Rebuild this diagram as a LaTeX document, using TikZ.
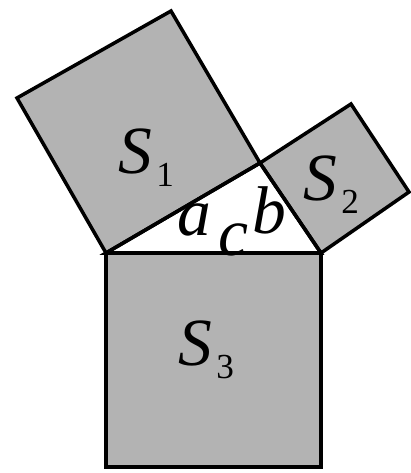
\documentclass[tikz,border=0pt]{standalone}
\usepackage{fontspec}
\setmainfont{Liberation Serif}
\usetikzlibrary{positioning}
\definecolor{squaregray}{HTML}{B3B3B3}
\tikzset{
  square/.style={draw=black, fill=squaregray, line width=2.5pt, line join=miter},
  edge/.style={draw=black, line width=2.5pt, line join=miter},
  sidelabel/.style={font=\fontsize{48}{48}\selectfont\itshape, inner sep=0pt, anchor=base west},
}
\newcommand{\sqname}[1]{S\kern3pt\raisebox{-0.2em}{\fontsize{25}{25}\selectfont\upshape #1}}
\begin{document}
\begin{tikzpicture}[x=0.025cm, y=-0.025cm]
  \fill[white] (0,0) rectangle (411,473);
  \useasboundingbox (0,0) rectangle (411,473);
  % triangle corners
  \coordinate (A) at (106,253);
  \coordinate (B) at (321,253);
  \coordinate (C) at (260,163);
  % outer corners of the squares
  \coordinate (A1) at (17,98);
  \coordinate (C1) at (171,11);
  \coordinate (C2) at (351,104);
  \coordinate (B2) at (409,192);
  \coordinate (A3) at (106,467);
  \coordinate (B3) at (321,467);
  \draw[square] (A) -- (A1) -- (C1) -- (C) -- cycle;
  \draw[square] (C) -- (C2) -- (B2) -- (B) -- cycle;
  \draw[square] (A) -- (B) -- (B3) -- (A3) -- cycle;
  \draw[edge] (A) -- (C) -- (B) -- cycle;
  % labels
  \node[sidelabel] (s1) at (118,173) {\sqname{1}};
  \node[sidelabel] (s2) at (303,200) {\sqname{2}};
  \node[sidelabel] (s3) at (178,365) {\sqname{3}};
  \node[sidelabel] (la) at (177,235) {a};
  \node[sidelabel] (lb) at (252,233) {b};
  \node[sidelabel] (lc) at (218,255) {c};
\end{tikzpicture}
\end{document}
